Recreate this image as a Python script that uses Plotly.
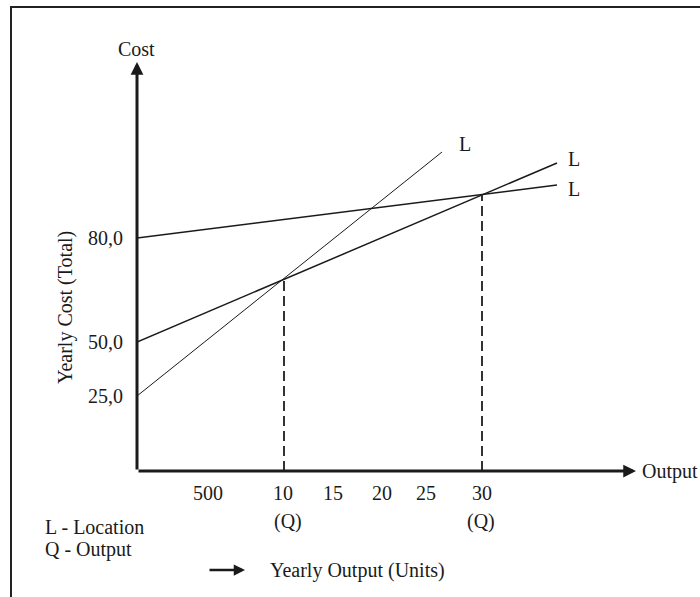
import plotly.graph_objects as go

# Diagram units (schematic, not to scale)
line_x_start = [0, 0, 0]
line_x_end = [420, 420, 305]
line_y_start = [233, 129, 75]      # 80,0 / 50,0 / 25,0 intercepts
line_y_end = [286, 308, 319]
line_widths = [1.5, 1.5, 1.0]
line_labels = ["L", "L", "L"]
label_x = [429, 429, 320]
label_y = [282, 312, 327]

q_x = [147, 345]           # break-even outputs
q_y = [192, 276]

x_tick_pos = [71, 146, 196, 245, 289, 345]
x_tick_text = ["500", "10", "15", "20", "25", "30"]
q_label_x = [151, 344]
q_label_text = ["(Q)", "(Q)"]

y_tick_pos = [233, 129, 75]
y_tick_text = ["80,0", "50,0", "25,0"]

X_MAX = 499
Y_MAX = 409

FONT = "Liberation Serif, Times New Roman, serif"
FS = 20
INK = "#1a1a1a"


def px(x):
    return x / X_MAX


def py(y):
    return y / Y_MAX


fig = go.Figure()

for i in range(3):
    fig.add_trace(go.Scatter(
        x=[line_x_start[i], line_x_end[i]],
        y=[line_y_start[i], line_y_end[i]],
        mode="lines", line=dict(color=INK, width=line_widths[i]),
        hoverinfo="skip", showlegend=False, cliponaxis=False))

for qx, qy in zip(q_x, q_y):
    fig.add_trace(go.Scatter(
        x=[qx, qx], y=[0, qy], mode="lines",
        line=dict(color="#333333", width=2, dash="10px,5px"),
        hoverinfo="skip", showlegend=False, cliponaxis=False))

ann = []
# axes with arrowheads
ann.append(dict(x=X_MAX, y=0, ax=0, ay=0, xref="x", yref="y", axref="x", ayref="y",
                text="", showarrow=True, arrowhead=2, arrowsize=0.85,
                arrowwidth=3, arrowcolor=INK, standoff=0))
ann.append(dict(x=0, y=Y_MAX, ax=0, ay=0, xref="x", yref="y", axref="x", ayref="y",
                text="", showarrow=True, arrowhead=2, arrowsize=0.85,
                arrowwidth=3, arrowcolor=INK, standoff=0))
# bottom legend arrow
ann.append(dict(x=px(108), y=py(-99), ax=-37, ay=0, xref="paper", yref="paper",
                text="", showarrow=True, arrowhead=2, arrowsize=0.9,
                arrowwidth=2.5, arrowcolor=INK, standoff=0))


def txt(x, y, t, xa="center", ya="middle", angle=0):
    return dict(x=px(x), y=py(y), xref="paper", yref="paper", text=t,
                showarrow=False, xanchor=xa, yanchor=ya, textangle=angle,
                font=dict(family=FONT, size=FS, color=INK))


for x, t in zip(x_tick_pos, x_tick_text):
    ann.append(txt(x, -22, t))
for x, t in zip(q_label_x, q_label_text):
    ann.append(txt(x, -50, t))
for y, t in zip(y_tick_pos, y_tick_text):
    ann.append(txt(-12, y, t, xa="right"))
for x, y, t in zip(label_x, label_y, line_labels):
    ann.append(txt(x, y, t, xa="left"))

ann.append(txt(-1, 422, "Cost"))
ann.append(txt(503, 0, "Output", xa="left"))
ann.append(txt(-72, 163, "Yearly Cost (Total)", angle=-90))
ann.append(txt(-94, -56, "L - Location", xa="left"))
ann.append(txt(-94, -78, "Q - Output", xa="left"))
ann.append(txt(131, -99, "Yearly Output (Units)", xa="left"))

shapes = [
    dict(type="line", xref="paper", yref="paper", x0=px(-127), y0=py(464),
         x1=px(563), y1=py(464), line=dict(color="#222222", width=2)),
    dict(type="line", xref="paper", yref="paper", x0=px(-126), y0=py(464),
         x1=px(-126), y1=py(-130), line=dict(color="#222222", width=2)),
]

fig.update_layout(
    width=700, height=597,
    margin=dict(l=137, r=64, t=62, b=126),
    paper_bgcolor="white", plot_bgcolor="white",
    xaxis=dict(range=[0, X_MAX], visible=False, fixedrange=True),
    yaxis=dict(range=[0, Y_MAX], visible=False, fixedrange=True),
    annotations=ann, shapes=shapes, showlegend=False,
)

fig.write_html(
    "out.html",
    config={"displayModeBar": False},
    post_script="document.body.style.margin='0';document.body.style.padding='0';",
)
